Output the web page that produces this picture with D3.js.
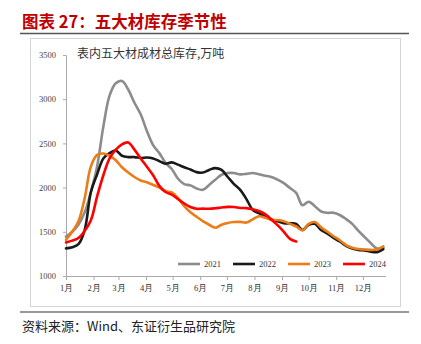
<!DOCTYPE html>
<html>
<head>
<meta charset="utf-8">
<script src="https://cdn.jsdelivr.net/npm/d3@7"></script>
<style>
html,body{margin:0;padding:0;background:#fff;}
svg{display:block;}
</style>
</head>
<body>
<svg id="chart" width="421" height="344"></svg>
<script>
// ---- data (weekly readings, week i ≈ day 7*i of year) ----
const years = ["2021", "2022", "2023", "2024"];
const colors = ["#8c8c8c", "#1a1a1a", "#eb7c16", "#ff0000"];
const monthLabels = ["1月","2月","3月","4月","5月","6月","7月","8月","9月","10月","11月","12月"];
const monthStartDays = [0,31,59,90,120,151,181,212,243,273,304,334];
const yTicks = [1000,1500,2000,2500,3000,3500];

const s2021 = [1445,1500,1580,1720,1950,2240,2690,3040,3180,3205,3110,2960,2830,2640,2480,2390,2280,2210,2100,2040,2025,1990,1975,2030,2090,2145,2165,2165,2150,2155,2165,2150,2135,2120,2090,2050,1995,1940,1800,1840,1790,1730,1715,1716,1690,1645,1590,1510,1440,1370,1310,1325];
const s2022 = [1313,1325,1360,1520,1950,2150,2330,2390,2420,2360,2345,2345,2335,2340,2330,2300,2270,2285,2260,2230,2205,2175,2170,2200,2220,2200,2120,2040,1975,1870,1750,1710,1670,1640,1620,1596,1596,1590,1520,1580,1590,1520,1480,1430,1390,1340,1310,1295,1290,1275,1270,1305];
const s2023 = [1410,1500,1620,1880,2240,2370,2385,2360,2310,2230,2170,2120,2080,2060,2030,2000,1960,1945,1880,1790,1720,1670,1620,1580,1545,1580,1600,1610,1612,1605,1640,1675,1660,1635,1633,1620,1590,1560,1515,1590,1610,1550,1500,1450,1405,1350,1320,1305,1300,1295,1300,1335];
const s2024 = [1380,1400,1430,1510,1630,1900,2140,2330,2430,2490,2510,2430,2330,2236,2140,2020,1950,1920,1870,1820,1780,1760,1762,1760,1766,1775,1782,1780,1770,1768,1755,1735,1700,1640,1575,1500,1420,1390];
const seriesValues = [s2021, s2022, s2023, s2024];

const title = "图表 27：五大材库存季节性";
const chartTitle = "表内五大材成材总库存,万吨";
const source = "资料来源：Wind、东证衍生品研究院";

// ---- drawing ----
const svg = d3.select("#chart");
const serif = "'Liberation Serif','DejaVu Serif',serif";
const cjk = "'Noto Sans CJK SC','Noto Sans',sans-serif";

svg.append("rect").attr("width",421).attr("height",344).attr("fill","#fff");

svg.append("text").attr("x",22).attr("y",28)
  .attr("font-family",cjk).attr("font-weight","bold").attr("font-size",16.5)
  .attr("fill","#c00000").text(title);

svg.append("line").attr("x1",20).attr("x2",409).attr("y1",33.5).attr("y2",33.5)
  .attr("stroke","#555").attr("stroke-width",1.5);

svg.append("rect").attr("x",30.5).attr("y",38.5).attr("width",370).attr("height",268)
  .attr("fill","none").attr("stroke","#d4d4d4").attr("stroke-width",1);

svg.append("line").attr("x1",20).attr("x2",409).attr("y1",312).attr("y2",312)
  .attr("stroke","#777").attr("stroke-width",1.5);

svg.append("text").attr("x",22).attr("y",331)
  .attr("font-family",cjk).attr("font-size",13).attr("fill","#222").text(source);

const x = d3.scaleLinear().domain([0,360]).range([66,386]);
const y = d3.scaleLinear().domain([1000,3500]).range([276,55]);

const yAxis = d3.axisLeft(y).tickValues(yTicks).tickSize(3).tickFormat(d3.format("d"));
const gy = svg.append("g").attr("transform","translate(66,0)").call(yAxis);
gy.selectAll("text").attr("font-family",serif).attr("font-size",8.5).attr("fill","#444").attr("dx",-4);
gy.selectAll("line").attr("stroke","#aaa");
gy.select(".domain").attr("stroke","#aaa");

const xAxis = d3.axisBottom(x).tickValues(monthStartDays).tickSize(4)
  .tickFormat((d,i)=>monthLabels[i]);
const gx = svg.append("g").attr("transform","translate(0,276)").call(xAxis);
gx.selectAll("text").attr("font-family",serif).attr("font-size",8.5).attr("fill","#333").attr("dy","0.9em");
gx.selectAll("line").attr("stroke","#aaa");
gx.select(".domain").attr("stroke","#aaa").attr("d","M66,0.5H386");

svg.append("text").attr("x",77).attr("y",58)
  .attr("font-family",cjk).attr("font-size",12).attr("fill","#333").text(chartTitle);

const line = d3.line()
  .x((d,i)=>x(i*7))
  .y(d=>y(d))
  .curve(d3.curveCatmullRom.alpha(0.5));

seriesValues.forEach((vals,k)=>{
  svg.append("path").datum(vals)
    .attr("d",line).attr("fill","none")
    .attr("stroke",colors[k]).attr("stroke-width",2.6)
    .attr("stroke-linejoin","round").attr("stroke-linecap","round");
});

// legend
const lg = svg.append("g");
years.forEach((yr,k)=>{
  const x0 = 178 + k*55;
  lg.append("line").attr("x1",x0).attr("x2",x0+22).attr("y1",264).attr("y2",264)
    .attr("stroke",colors[k]).attr("stroke-width",2.6);
  lg.append("text").attr("x",x0+26).attr("y",267)
    .attr("font-family",serif).attr("font-size",8.5).attr("fill","#333").text(yr);
});
</script>
</body>
</html>
